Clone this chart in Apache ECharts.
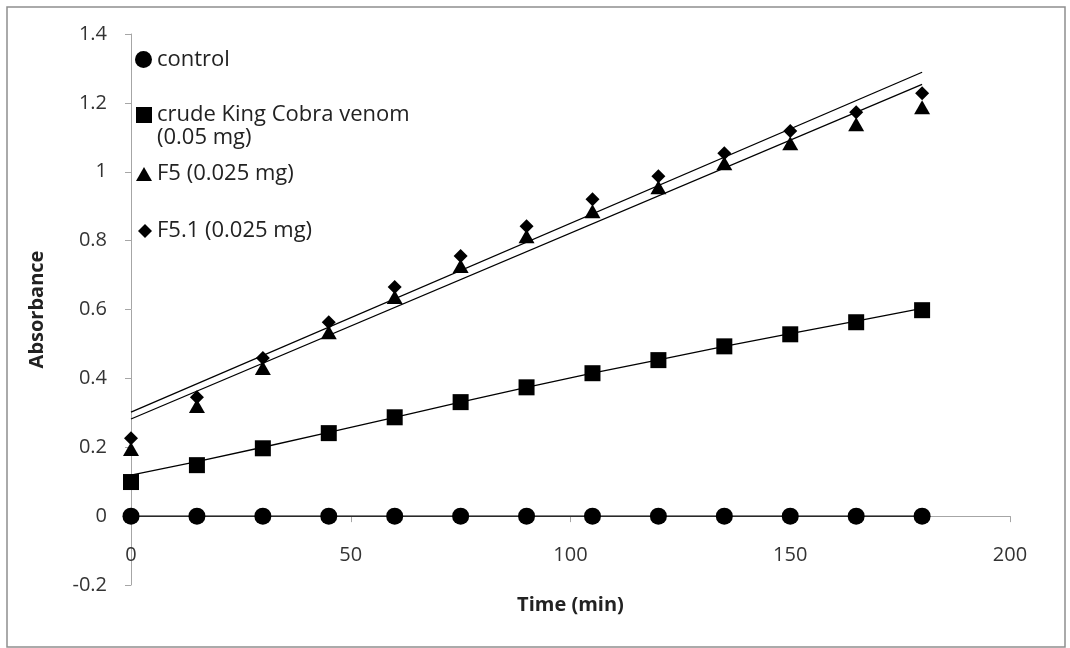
<!DOCTYPE html>
<html><head><meta charset="utf-8">
<script src="https://cdn.jsdelivr.net/npm/echarts@6/dist/echarts.min.js"></script>
<style>html,body{margin:0;padding:0;background:#fff}#c{width:1070px;height:648px}</style>
</head><body><div id="c"></div>
<script>
// ---- data ----
const timeMin = [0, 15, 30, 45, 60, 75, 90, 105, 120, 135, 150, 165, 180];
const control = [0, 0, 0, 0, 0, 0, 0, 0, 0, 0, 0, 0, 0];
const crude = [0.099, 0.148, 0.197, 0.241, 0.287, 0.331, 0.374, 0.415, 0.453, 0.493, 0.528, 0.563, 0.598];
const f5 = [0.195, 0.32, 0.43, 0.534, 0.636, 0.726, 0.813, 0.885, 0.955, 1.025, 1.083, 1.138, 1.187];
const f51 = [0.226, 0.345, 0.459, 0.563, 0.665, 0.755, 0.842, 0.92, 0.987, 1.054, 1.118, 1.173, 1.228];
const crudeTrend = [0.119, 0.158, 0.200, 0.243, 0.287, 0.331, 0.374, 0.415, 0.454, 0.493, 0.530, 0.566, 0.603];
const trendX = [0, 180];
const f5Trend = [0.282, 1.254];
const f51Trend = [0.302, 1.289];
const names = ['control', 'crude King Cobra venom (0.05 mg)', 'F5 (0.025 mg)', 'F5.1 (0.025 mg)'];
const xTitle = 'Time (min)';
const yTitle = 'Absorbance';

const pairs = (xs, ys) => xs.map((x, i) => [x, ys[i]]);
const FONT = '"Open Sans", sans-serif';

const chart = echarts.init(document.getElementById('c'), null, {renderer: 'canvas'});

function trendLine(data) {
  return {type: 'line', data: data, showSymbol: false, symbol: 'none', silent: true,
    lineStyle: {color: '#000', width: 1.3}, z: 2, animation: false};
}
function marker(name, symbol, size, data) {
  return {type: 'scatter', name: name, symbol: symbol, symbolSize: size, data: data,
    itemStyle: {color: '#000', opacity: 1}, z: 3, animation: false, silent: true};
}
const legendText = {fontFamily: FONT, fontSize: 22, color: '#222', lineHeight: 23};
function legendItem(name, top, w, h, extra) {
  return Object.assign({
    data: [name], left: 152 - w, top: top, orient: 'vertical', padding: 0,
    itemWidth: w, itemHeight: h, selectedMode: false,
    itemStyle: {opacity: 1},
    textStyle: Object.assign({}, legendText)
  }, extra || {});
}

chart.setOption({
  animation: false,
  backgroundColor: '#fff',
  grid: {left: 131, right: 60, top: 34, bottom: 63, outerBoundsMode: 'none', containLabel: false},
  xAxis: {
    type: 'value', min: 0, max: 200, interval: 50,
    axisLine: {show: true, onZero: true, lineStyle: {color: '#a6a6a6', width: 1}},
    axisTick: {show: true, length: 6, lineStyle: {color: '#a6a6a6'}},
    axisLabel: {margin: -40, fontFamily: FONT, fontSize: 20, color: '#333'},
    splitLine: {show: false},
    name: xTitle, nameLocation: 'middle', nameGap: 10, nameMoveOverlap: false,
    nameTextStyle: {fontFamily: FONT, fontSize: 20, fontWeight: 'bold', color: '#222'}
  },
  yAxis: {
    type: 'value', min: -0.2, max: 1.4, interval: 0.2,
    axisLine: {show: true, onZero: false, lineStyle: {color: '#a6a6a6', width: 1}},
    axisTick: {show: true, length: 6, lineStyle: {color: '#a6a6a6'}},
    axisLabel: {margin: 24, fontFamily: FONT, fontSize: 20, color: '#333',
      formatter: v => String(Math.round(v * 10) / 10)},
    splitLine: {show: false},
    name: yTitle, nameLocation: 'middle', nameGap: 84, nameRotate: 90, nameMoveOverlap: false,
    nameTextStyle: {fontFamily: FONT, fontSize: 20, fontWeight: 'bold', color: '#222'}
  },
  legend: [
    legendItem(names[0], 48, 17, 17),
    legendItem(names[1], 80.5, 16, 16, {
      formatter: () => '\ncrude King Cobra venom\n(0.05 mg)'
    }),
    legendItem(names[2], 162.5, 16, 14),
    legendItem(names[3], 219.5, 14, 14)
  ],
  graphic: [{
    type: 'rect', silent: true, z: -10,
    shape: {x: 7, y: 7, width: 1058, height: 640},
    style: {fill: 'none', stroke: '#8f8f8f', lineWidth: 1.5}
  }],
  series: [
    trendLine(pairs(timeMin, control)),
    trendLine(pairs(timeMin, crudeTrend)),
    trendLine(pairs(trendX, f5Trend)),
    trendLine(pairs(trendX, f51Trend)),
    marker(names[0], 'circle', 17, pairs(timeMin, control)),
    marker(names[1], 'rect', 16, pairs(timeMin, crude)),
    marker(names[2], 'triangle', [16, 14], pairs(timeMin, f5)),
    marker(names[3], 'diamond', [14, 14], pairs(timeMin, f51))
  ]
});
</script>
</body></html>
